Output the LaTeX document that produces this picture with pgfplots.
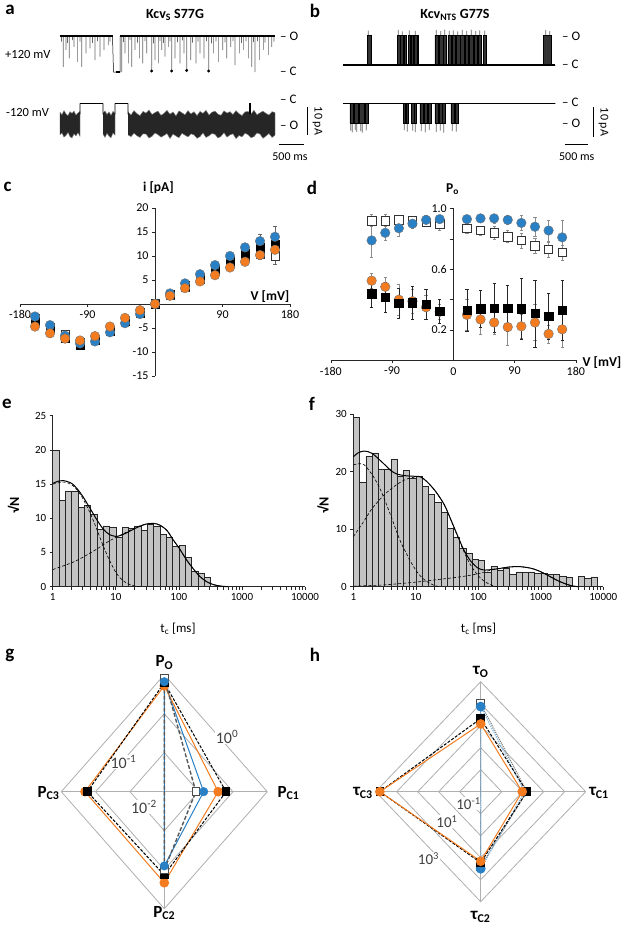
\documentclass[border=0pt]{standalone}
\usepackage{fontspec}
\setmainfont{Carlito}
\usepackage{pgfplots}
\usepackage{pgfplotstable}
\pgfplotsset{compat=1.18}

\definecolor{kblue}{RGB}{41,128,196}
\definecolor{korange}{RGB}{243,124,32}
\definecolor{kgrid}{RGB}{175,175,175}
\definecolor{kbar}{RGB}{196,196,196}
\newcommand{\fsz}[1]{\fontsize{#1}{#1}\selectfont}

\pgfkeys{/pgf/number format/assume math mode=true}
\pgfplotsset{
  every axis/.append style={scale only axis, anchor=south west},
  trace/.style={hide axis, clip=false},
  radar/.style={hide axis, clip=false, xmin=-1, xmax=1, ymin=-1, ymax=1},
  midaxis/.style={axis lines=middle, axis line style={-, black!85, line width=0.8pt},
    tick style={black!85, line width=0.6pt}, major tick length=3pt,
    tick align=outside, tick label style={font=\fsz{12}}, clip=false},
  histaxis/.style={axis x line=bottom, axis y line=left,
    axis line style={-, black!85, line width=0.8pt},
    tick style={black!85, line width=0.6pt}, major tick length=3pt, tick align=outside,
    tick label style={font=\fsz{11}}, clip=false},
  sqk/.style={only marks, mark=square*, mark size=4.2pt, mark options={fill=black, draw=black}},
  sqw/.style={only marks, mark=square*, mark size=4.2pt, mark options={fill=white, draw=black!80, line width=0.6pt}},
  cib/.style={only marks, mark=*, mark size=4.8pt, mark options={fill=kblue, draw=black!55, line width=0.4pt}},
  cio/.style={only marks, mark=*, mark size=4.8pt, mark options={fill=korange, draw=black!55, line width=0.4pt}},
  fitline/.style={black, line width=1pt, smooth, no marks},
  compline/.style={black, densely dashed, line width=0.6pt, smooth, no marks},
  spikes/.style={ybar, bar width=0.7pt, fill=black!60, draw=none},
}

% current-voltage (c)
\pgfplotstableread{
V blk wht blu org eblk ewht eblu eorg
-160 -3.6 -3.0 -2.6 -4.7 0.3 0.3 0.3 0.3
-140 -5.0 -5.0 -4.4 -6.1 0.3 0.3 0.3 0.3
-120 -7.0 -6.4 -6.6 -7.2 0.3 0.3 0.3 0.3
-100 -8.5 -8.0 -8.2 -7.6 0.3 0.3 0.3 0.3
-80 -7.6 -7.3 -7.8 -6.7 0.3 0.3 0.3 0.3
-60 -5.6 -5.5 -5.9 -4.7 0.3 0.3 0.3 0.3
-40 -3.6 -3.5 -4.0 -2.9 0.3 0.3 0.3 0.3
-20 -1.8 -1.7 -2.1 -1.3 0.3 0.3 0.3 0.3
0 0 0 0 0 0 0 0 0
20 2.0 1.9 2.2 1.7 0.3 0.3 0.3 0.3
40 3.8 3.6 4.3 3.3 0.3 0.3 0.3 0.3
60 5.5 5.2 6.2 4.7 0.3 0.3 0.3 0.3
80 7.2 6.8 8.1 6.0 0.4 0.4 0.4 0.3
100 9.0 8.5 10.0 7.6 0.6 0.5 0.6 0.4
120 10.5 9.8 11.8 8.8 0.8 0.7 0.9 0.5
140 11.8 10.4 13.1 10.2 1.4 1.0 1.5 0.6
160 12.5 10.0 14.0 11.3 1.8 1.7 2.3 0.8
}\ivdata

% open probability (d)
\pgfplotstableread{
V blk wht blu org eblk ewht eblu eorg
-120 0.44 0.92 0.79 0.525 0.09 0.04 0.11 0.05
-100 0.415 0.92 0.84 0.485 0.10 0.04 0.05 0.06
-80 0.375 0.925 0.87 0.40 0.10 0.03 0.05 0.10
-60 0.38 0.92 0.90 0.39 0.11 0.03 0.03 0.08
-40 0.37 0.91 0.925 0.35 0.10 0.03 0.03 0.08
-20 0.325 0.90 0.93 0.32 0.08 0.04 0.02 0.05
20 0.33 0.87 0.93 0.30 0.14 0.03 0.02 0.10
40 0.34 0.855 0.935 0.27 0.12 0.03 0.02 0.10
60 0.345 0.84 0.935 0.25 0.16 0.04 0.03 0.08
80 0.345 0.815 0.925 0.22 0.15 0.04 0.03 0.12
100 0.34 0.79 0.905 0.225 0.20 0.05 0.05 0.08
120 0.31 0.755 0.88 0.25 0.22 0.05 0.06 0.12
140 0.29 0.73 0.855 0.175 0.15 0.05 0.07 0.06
160 0.33 0.71 0.81 0.205 0.20 0.05 0.11 0.12
}\podata

% closed-time histograms, bin k spans 10^(k/10) .. 10^((k+1)/10) ms
\pgfplotstableread{
k h
0 20.0
1 12.6
2 14.0
3 14.0
4 11.6
5 11.9
6 10.6
7 8.4
8 8.9
9 8.7
10 7.3
11 8.7
12 8.6
13 8.9
14 8.2
15 9.2
16 8.9
17 7.7
18 7.3
19 5.9
20 6.0
21 4.3
22 2.3
23 1.9
24 1.4
}\histe

\pgfplotstableread{
k h
0 29.5
1 18.1
2 22.7
3 23.3
4 20.5
5 20.5
6 22.1
7 19.3
8 20.2
9 18.9
10 19.2
11 17.5
12 16.1
13 14.7
14 13.0
15 10.2
16 8.6
17 6.7
18 5.9
19 4.7
20 4.6
21 2.6
22 3.6
23 2.9
24 3.2
25 2.2
26 2.6
27 2.5
28 2.6
29 2.3
30 2.3
31 2.2
32 2.2
33 1.9
34 1.7
36 1.8
37 1.4
38 1.7
}\histf

% radar: probabilities (g), angle in degrees
\pgfplotstableread{
a p
90 0.81
0 0.0083
270 0.10
180 0.001
90 0.81
}\gwht
\pgfplotstableread{
a p
90 0.66
0 0.014
270 0.080
180 0.001
90 0.66
}\gblu
\pgfplotstableread{
a p
90 0.62
0 0.063
270 0.137
180 0.175
90 0.62
}\gblk
\pgfplotstableread{
a p
90 0.52
0 0.037
270 0.216
180 0.204
90 0.52
}\gorg

% radar: time constants in ms (h)
\pgfplotstableread{
a p
90 100
0 1.58
270 25
180 0.01
90 100
}\hwht
\pgfplotstableread{
a p
90 74
0 1.23
270 31.6
180 0.01
90 74
}\hblu
\pgfplotstableread{
a p
90 21
0 1.58
270 16.8
180 631
90 21
}\hblk
\pgfplotstableread{
a p
90 12
0 0.95
270 14.5
180 631
90 12
}\horg

\begin{document}
\begin{tikzpicture}
\path[use as bounding box] (0pt,0pt) rectangle (623pt,930pt);

% ================= a : Kcv_S S77G traces =================
\begin{axis}[trace, at={(60pt,852pt)}, width=215pt, height=50.4pt,
  xmin=0, xmax=4300, ymin=-15, ymax=3]
\addplot[spikes] coordinates {(30,-2) (67,-11.0) (120,-5.0) (150,-2.5) (187,-8.0)
 (250,-1.5) (280,-3.9) (347,-9.2) (400,-2) (433,-11.0) (520,-6.2) (600,-4.4) (650,-2.5)
 (700,-8.6) (750,-1.8) (800,-7.4) (880,-5.0) (967,-3.3) (1000,-2) (1233,-12.9) (1270,-2.2)
 (1300,-6.2) (1367,-9.8) (1400,-1.5) (1433,-11.0) (1500,-5.0) (1550,-2.4) (1587,-8.0)
 (1653,-9.8) (1700,-1.8) (1733,-6.2) (1833,-12.9) (1870,-2.6) (1900,-8.6) (1967,-9.8)
 (2000,-1.7) (2033,-5.0) (2070,-2.5) (2100,-7.4) (2167,-3.9) (2200,-1.9) (2233,-12.9)
 (2300,-8.0) (2350,-2.2) (2400,-9.8) (2450,-1.6) (2480,-6.2) (2533,-12.9) (2613,-8.6)
 (2650,-2.4) (2720,-9.8) (2760,-2) (2800,-6.2) (2880,-8.0) (2930,-1.8) (2973,-12.9)
 (3030,-2.6) (3067,-6.2) (3120,-1.9) (3167,-9.2) (3253,-5.0) (3300,-2.3) (3333,-8.0)
 (3413,-3.9) (3460,-1.7) (3500,-10.4) (3587,-6.2) (3630,-2.5) (3667,-5.0) (3720,-1.9)
 (3767,-8.0) (3833,-11.0) (3870,-2.2) (3900,-12.9) (3950,-1.8) (3987,-8.6) (4067,-5.0)
 (4100,-2.4) (4167,-6.8) (4233,-3.9) (4280,-2)};
\addplot[black, line width=1.5pt] coordinates {(0,0) (1050,0)};
\addplot[black, line width=1.5pt] coordinates {(1200,0) (4300,0)};
\addplot[black, line width=0.5pt] coordinates {(1050,0) (1070,-12.9) (1200,-12.9) (1200,0)};
\addplot[black, line width=1.8pt] coordinates {(1110,-12.9) (1200,-12.9)};
\addplot[only marks, mark=*, mark size=1.3pt, black] coordinates {(1833,-12.5) (2233,-12.5) (2533,-12.3) (2973,-12.5)};
\end{axis}

\begin{axis}[trace, at={(60pt,787.5pt)}, width=215pt, height=44.8pt,
  xmin=0, xmax=4300, ymin=-14, ymax=2]
\addplot[fill=black!85, draw=black!50, line width=0.4pt] coordinates {
 (0,-3.2) (40,-4.1) (80,-2.6) (120,-3.8) (160,-4.4) (200,-3.0) (240,-3.6) (280,-2.8)
 (320,-4.2) (360,-3.4) (400,-2.9) (400,-11.8) (360,-10.5) (320,-11.6) (280,-10.9)
 (240,-12.4) (200,-11.9) (160,-10.4) (120,-11.5) (80,-12.1) (40,-10.6) (0,-11.2)};
\addplot[fill=black!85, draw=black!50, line width=0.4pt] coordinates {
 (860,-3.5) (900,-2.7) (940,-4.0) (980,-3.1) (1020,-4.3) (1060,-2.9) (1100,-3.6)
 (1100,-11.4) (1060,-10.6) (1020,-12.3) (980,-11.7) (940,-10.7) (900,-12.2) (860,-11.0)};
\addplot[fill=black!85, draw=black!50, line width=0.4pt] coordinates {
 (1360,-3.0) (1420,-4.2) (1480,-2.6) (1540,-3.7) (1600,-4.4) (1660,-2.9) (1720,-3.5)
 (1780,-2.4) (1840,-4.0) (1900,-3.3) (1960,-2.8) (2020,-4.3) (2080,-3.6) (2140,-2.5)
 (2200,-3.9) (2260,-3.1) (2320,-4.5) (2380,-2.7) (2440,-3.4) (2500,-4.1) (2560,-2.6)
 (2620,-3.8) (2680,-3.0) (2740,-4.4) (2800,-2.9) (2860,-3.6) (2920,-2.5) (2980,-4.2)
 (3040,-3.2) (3100,-2.8) (3160,-3.9) (3220,-4.3) (3280,-2.7) (3340,-3.5) (3400,-3.0)
 (3460,-4.0) (3520,-2.6) (3580,-3.7) (3640,-4.4) (3700,-3.1) (3760,-2.9) (3820,-3.8)
 (3880,-2.5) (3940,-4.1) (4000,-3.4) (4060,-2.8) (4120,-3.6) (4180,-4.2) (4240,-3.0)
 (4300,-3.3)
 (4300,-11.4) (4240,-12.2) (4180,-10.8) (4120,-11.7) (4060,-12.5) (4000,-11.0) (3940,-10.6)
 (3880,-11.9) (3820,-12.3) (3760,-11.2) (3700,-10.7) (3640,-12.0) (3580,-11.5) (3520,-12.6)
 (3460,-10.9) (3400,-11.3) (3340,-12.1) (3280,-10.5) (3220,-11.8) (3160,-12.4) (3100,-11.1)
 (3040,-10.8) (2980,-11.6) (2920,-12.2) (2860,-10.6) (2800,-11.9) (2740,-12.5) (2680,-11.3)
 (2620,-10.9) (2560,-12.0) (2500,-11.4) (2440,-10.7) (2380,-12.3) (2320,-11.7) (2260,-11.0)
 (2200,-12.6) (2140,-10.8) (2080,-11.5) (2020,-12.1) (1960,-11.2) (1900,-10.6) (1840,-11.8)
 (1780,-12.4) (1720,-11.0) (1660,-10.9) (1600,-12.2) (1540,-11.6) (1480,-10.7) (1420,-11.9)
 (1360,-11.3)};
\addplot[black, line width=1.4pt] coordinates {(400,0) (860,0)};
\addplot[black, line width=1.4pt] coordinates {(1100,0) (1360,0)};
\addplot[ybar, bar width=0.6pt, fill=black, draw=none] coordinates {(400,-4) (860,-4) (1100,-4) (1360,-4)};
\addplot[black, line width=0.6pt] coordinates {(3785,-4) (3785,0) (3800,0) (3800,-4)};
\end{axis}

% ================= b : Kcv_NTS G77S traces =================
\begin{axis}[trace, at={(343.3pt,856.6pt)}, width=212pt, height=44.8pt,
  xmin=0, xmax=4240, ymin=-3, ymax=13]
\addplot[spikes] coordinates {(500,12.3) (1100,12.5) (1180,12.0) (1320,12.4) (1440,12.2)
 (1860,12.5) (1950,12.1) (2030,12.6) (2120,12.2) (2200,12.4) (2290,12.0) (2380,12.5)
 (2470,12.2) (2560,12.6) (2650,12.1) (2730,12.4) (2830,12.3) (4050,12.5) (4130,12.1)};
\addplot[const plot, fill=black!80, draw=black, line width=0.4pt] coordinates {
 (0,0) (486,10.7) (567,0)
 (1080,10.7) (1130,0) (1145,10.7) (1200,0) (1215,10.7) (1250,0) (1300,10.7) (1340,0)
 (1350,10.7) (1400,0) (1420,10.7) (1470,0) (1480,10.7) (1500,0)
 (1833,10.7) (1900,0) (1915,10.7) (1990,0) (2000,10.7) (2060,0) (2090,10.7) (2160,0)
 (2170,10.7) (2240,0) (2260,10.7) (2330,0) (2345,10.7) (2420,0) (2440,10.7) (2500,0)
 (2520,10.7) (2600,0) (2610,10.7) (2680,0) (2700,10.7) (2760,0) (2800,10.7) (2867,0)
 (4000,10.7) (4166,0) (4240,0)} \closedcycle;
\addplot[black, line width=1.3pt] coordinates {(0,0) (4240,0)};
\end{axis}

\begin{axis}[trace, at={(343.3pt,793.1pt)}, width=212pt, height=42pt,
  xmin=0, xmax=4240, ymin=-12, ymax=3]
\addplot[spikes] coordinates {(150,-9.8) (180,-10.4) (240,-9.5) (270,-10.2) (350,-9.9)
 (380,-10.5) (460,-9.7) (1220,-9.6) (1280,-10.1) (1390,-9.8) (1440,-10.3) (1560,-9.9)
 (1640,-10.4) (1720,-9.6) (1860,-10.2) (1940,-9.8) (2010,-10.5) (2180,-9.9) (2260,-10.1)};
\addplot[const plot, fill=black!80, draw=black, line width=0.4pt] coordinates {
 (0,0) (133,-7.1) (200,0) (210,-7.1) (300,0) (310,-7.1) (420,0) (430,-7.1) (500,0)
 (1200,-7.1) (1245,0) (1255,-7.1) (1300,0) (1367,-7.1) (1415,0) (1425,-7.1) (1467,0)
 (1533,-7.1) (1600,0) (1612,-7.1) (1680,0) (1690,-7.1) (1750,0) (1833,-7.1) (1900,0)
 (1910,-7.1) (1970,0) (1985,-7.1) (2040,0) (2150,-7.1) (2220,0) (2230,-7.1) (2300,0)
 (4240,0)} \closedcycle;
\addplot[black, line width=1.3pt] coordinates {(0,0) (4240,0)};
\end{axis}

% trace annotations
\node[font=\fsz{19}\bfseries] at (10pt,920pt) {a};
\node[font=\fsz{19}\bfseries] at (315pt,919pt) {b};
\node[font=\fsz{14}\bfseries] at (175pt,915pt) {Kcv\textsubscript{S} S77G};
\node[font=\fsz{14}\bfseries] at (455pt,915pt) {Kcv\textsubscript{NTS} G77S};
\node[font=\fsz{12.5}, anchor=west, inner sep=0pt] at (5pt,876pt) {+120 mV};
\node[font=\fsz{12.5}, anchor=west, inner sep=0pt] at (6pt,818pt) {-120 mV};
\begin{scope}[every node/.style={font=\fsz{13}, anchor=west, inner sep=0pt}]
\node at (280pt,894pt) {– O};
\node at (280pt,858.5pt) {– C};
\node at (280pt,830.5pt) {– C};
\node at (280pt,805pt) {– O};
\node at (562pt,893.3pt) {– O};
\node at (562pt,865.7pt) {– C};
\node at (562pt,827.3pt) {– C};
\node at (562pt,806.7pt) {– O};
\end{scope}
\draw[line width=1pt] (307pt,823pt) -- (307pt,795pt);
\node[rotate=-90, font=\fsz{12}] at (317.5pt,809pt) {10 pA};
\draw[line width=1pt] (593.3pt,823pt) -- (593.3pt,793pt);
\node[rotate=-90, font=\fsz{12}] at (603.5pt,808pt) {10 pA};
\draw[line width=1pt] (279pt,785.7pt) -- (304pt,785.7pt);
\node[font=\fsz{12}] at (290pt,773.3pt) {500 ms};
\draw[line width=1pt] (565pt,785.7pt) -- (588pt,785.7pt);
\node[font=\fsz{12}] at (576.7pt,773.3pt) {500 ms};

% ================= c : i-V =================
\begin{axis}[midaxis, at={(20pt,554pt)}, width=270pt, height=168pt,
  xmin=-180, xmax=180, ymin=-15, ymax=20,
  xtick={-180,-90,90,180}, ytick={-15,-10,-5,5,10,15,20}]
\addplot[sqw, error bars/.cd, y dir=both, y explicit, error bar style={line width=0.5pt, black!60},
  error mark options={rotate=90, mark size=1.6pt, line width=0.5pt, black!60}]
  table[x=V, y=wht, y error=ewht] {\ivdata};
\addplot[sqk, error bars/.cd, y dir=both, y explicit, error bar style={line width=0.5pt, black!80},
  error mark options={rotate=90, mark size=1.6pt, line width=0.5pt, black!80}]
  table[x=V, y=blk, y error=eblk] {\ivdata};
\addplot[cib, error bars/.cd, y dir=both, y explicit, error bar style={line width=0.5pt, black!60},
  error mark options={rotate=90, mark size=1.6pt, line width=0.5pt, black!60}]
  table[x=V, y=blu, y error=eblu] {\ivdata};
\addplot[cio, error bars/.cd, y dir=both, y explicit, error bar style={line width=0.5pt, black!60},
  error mark options={rotate=90, mark size=1.6pt, line width=0.5pt, black!60}]
  table[x=V, y=org, y error=eorg] {\ivdata};
\end{axis}
\node[font=\fsz{19}\bfseries] at (7.5pt,743.3pt) {c};
\node[font=\fsz{13.5}\bfseries] at (158.5pt,742pt) {i [pA]};
\node[font=\fsz{13.5}\bfseries] at (270pt,633pt) {V [mV]};

% ================= d : Po-V =================
\begin{axis}[midaxis, at={(330.8pt,569.5pt)}, width=245pt, height=152pt,
  xmin=-180, xmax=180, ymin=0, ymax=1,
  xtick={-180,-90,0,90,180}, xticklabels={-180,-90,0,90,180},
  ytick={0.2,0.4,0.6,0.8,1.0}, yticklabels={0.2,{},0.6,{},1.0}]
\addplot[sqw, error bars/.cd, y dir=both, y explicit, error bar style={line width=0.5pt, black!45},
  error mark options={rotate=90, mark size=1.6pt, line width=0.5pt, black!45}]
  table[x=V, y=wht, y error=ewht] {\podata};
\addplot[cib, error bars/.cd, y dir=both, y explicit, error bar style={line width=0.5pt, black!45},
  error mark options={rotate=90, mark size=1.6pt, line width=0.5pt, black!45}]
  table[x=V, y=blu, y error=eblu] {\podata};
\addplot[cio, error bars/.cd, y dir=both, y explicit, error bar style={line width=0.5pt, black!45},
  error mark options={rotate=90, mark size=1.6pt, line width=0.5pt, black!45}]
  table[x=V, y=org, y error=eorg] {\podata};
\addplot[sqk, error bars/.cd, y dir=both, y explicit, error bar style={line width=0.5pt, black!85},
  error mark options={rotate=90, mark size=1.6pt, line width=0.5pt, black!85}]
  table[x=V, y=blk, y error=eblk] {\podata};
\node[font=\fsz{12}, anchor=north, inner sep=2pt, fill=white] at (axis cs:0,0) [yshift=-5pt] {0};
\end{axis}
\node[font=\fsz{19}\bfseries] at (312pt,742pt) {d};
\node[font=\fsz{13.5}\bfseries] at (452.5pt,741pt) {P\textsubscript{o}};
\node[font=\fsz{13.5}\bfseries] at (602pt,567pt) {V [mV]};

% ================= e : histogram =================
\begin{axis}[histaxis, xmode=log, xmin=1, xmax=10000, ymin=0, ymax=25,
  at={(52.7pt,343.3pt)}, width=252.3pt, height=171pt,
  xtick={1,10,100,1000,10000}, xticklabels={1,10,100,1000,10000},
  minor xtick={}, ytick={0,5,10,15,20,25}]
\addplot[ybar, bar width=6.31pt, fill=kbar, draw=black!85, line width=0.5pt]
  table[x expr={exp(0.230258509*(\thisrow{k}+0.5))}, y=h] {\histe};
\addplot[compline] coordinates {(1,15.0) (1.5,15.3) (2,14.9) (2.5,14.0) (3,12.9) (4,10.6)
 (5,8.4) (6,6.5) (7,5.0) (8,3.8) (10,2.1) (12,1.2) (15,0.5) (20,0.1) (25,0)};
\addplot[compline] coordinates {(1,2.5) (2,3.5) (3,4.3) (5,5.5) (7,6.4) (10,7.2) (15,8.0)
 (20,8.6) (25,8.95) (30,9.15) (40,9.25) (50,9.0) (65,8.2) (82,6.8) (100,5.7) (133,3.9)
 (170,2.6) (215,1.5) (280,0.7) (355,0.3) (450,0.1) (600,0)};
\addplot[fitline] coordinates {(1,15.1) (1.2,15.4) (1.5,15.5) (2,15.1) (2.5,14.2) (3,13.2)
 (4,11.3) (5,9.8) (6,8.7) (7,8.0) (8,7.6) (10,7.35) (12,7.5) (15,7.9) (20,8.5) (25,8.9)
 (30,9.15) (40,9.25) (50,9.0) (65,8.2) (82,6.8) (100,5.7) (133,3.9) (170,2.6) (215,1.5)
 (280,0.7) (355,0.3) (450,0.1) (600,0)};
\end{axis}
\node[font=\fsz{19}\bfseries] at (7pt,526pt) {e};
\node[font=\fsz{14}\bfseries, rotate=90] at (13.5pt,425pt) {√N};
\node[font=\fsz{13}] at (178pt,301pt) {t\textsubscript{c} [ms]};

% ================= f : histogram =================
\begin{axis}[histaxis, xmode=log, xmin=1, xmax=10000, ymin=0, ymax=30,
  at={(353.3pt,343.3pt)}, width=250pt, height=172.4pt,
  xtick={1,10,100,1000,10000}, xticklabels={1,10,100,1000,10000},
  minor xtick={}, ytick={0,10,20,30}]
\addplot[ybar, bar width=6.25pt, fill=kbar, draw=black!85, line width=0.5pt]
  table[x expr={exp(0.230258509*(\thisrow{k}+0.5))}, y=h] {\histf};
\addplot[compline] coordinates {(1,21.2) (1.25,21.4) (1.5,21.2) (2,19.5) (2.5,17.7) (3,15.8)
 (4,12.3) (5,9.4) (6,7.3) (7,5.9) (8,4.6) (10,2.9) (12,1.8) (15,0.9) (20,0.2) (25,0)};
\addplot[compline] coordinates {(1,8.7) (1.5,11.5) (2,13.6) (3,15.8) (4,17.0) (5,17.8)
 (7,18.7) (10,19.1) (12,19.1) (15,18.3) (20,16.8) (25,15.3) (30,13.8) (40,10.5) (50,7.9)
 (60,5.9) (75,3.8) (100,1.9) (130,0.8) (170,0.2) (200,0)};
\addplot[compline] coordinates {(1,0.1) (3,0.3) (10,0.8) (25,1.3) (50,1.7) (85,2.1) (120,2.5)
 (160,2.9) (200,3.1) (300,3.4) (450,3.5) (700,3.2) (1000,2.6) (1500,1.6) (2000,0.9)
 (3000,0.2) (4000,0)};
\addplot[fitline] coordinates {(1,22.6) (1.2,23.3) (1.5,23.6) (2,23.2) (3,21.5) (4,20.2)
 (5,19.6) (7,19.3) (10,19.2) (12,19.1) (15,18.3) (20,16.8) (25,15.3) (30,13.8) (40,10.6)
 (50,8.1) (60,6.2) (75,4.5) (100,3.2) (130,2.9) (200,3.1) (300,3.4) (450,3.5) (700,3.2)
 (1000,2.6) (1500,1.6) (2000,0.9) (3000,0.2) (4000,0)};
\end{axis}
\node[font=\fsz{19}\bfseries] at (312pt,526pt) {f};
\node[font=\fsz{14}\bfseries, rotate=90] at (323pt,425pt) {√N};
\node[font=\fsz{13}] at (478.5pt,301pt) {t\textsubscript{c} [ms]};

% ================= g : radar of probabilities =================
\begin{axis}[radar, at={(61.3pt,21.3pt)}, width=206pt, height=234pt]
\addplot[kgrid, line width=0.8pt] coordinates {(1,0) (0,1) (-1,0) (0,-1) (1,0)};
\addplot[kgrid, line width=0.8pt] coordinates {(0.6667,0) (0,0.6667) (-0.6667,0) (0,-0.6667) (0.6667,0)};
\addplot[kgrid, line width=0.8pt] coordinates {(0.3333,0) (0,0.3333) (-0.3333,0) (0,-0.3333) (0.3333,0)};
\addplot[kgrid, line width=0.8pt] coordinates {(-1,0) (1,0)};
\addplot[kgrid, line width=0.8pt] coordinates {(0,-1) (0,1)};
\end{axis}
\begin{scope}[every node/.style={font=\fsz{16}, text=black!75, fill=white, inner sep=0.6pt}]
\node at (227pt,193pt) {10\textsuperscript{0}};
\node at (123.5pt,168pt) {10\textsuperscript{-1}};
\node at (144pt,123pt) {10\textsuperscript{-2}};
\end{scope}
\begin{axis}[radar, at={(61.3pt,21.3pt)}, width=206pt, height=234pt]
\addplot[kblue, line width=1pt, no marks]
  table[x expr={cos(\thisrow{a})*(ln(\thisrow{p})/ln(10)+3)/3},
        y expr={sin(\thisrow{a})*(ln(\thisrow{p})/ln(10)+3)/3}] {\gblu};
\addplot[korange, line width=1pt, mark=*, mark size=4.3pt, mark options={fill=korange},
  mark indices={1,2,3,4}]
  table[x expr={cos(\thisrow{a})*(ln(\thisrow{p})/ln(10)+3)/3},
        y expr={sin(\thisrow{a})*(ln(\thisrow{p})/ln(10)+3)/3}] {\gorg};
\addplot[black, line width=1pt, dash pattern=on 3pt off 1.5pt, mark=square*, mark size=3.8pt,
  mark options={solid, fill=black}, mark indices={1,2,3,4}]
  table[x expr={cos(\thisrow{a})*(ln(\thisrow{p})/ln(10)+3)/3},
        y expr={sin(\thisrow{a})*(ln(\thisrow{p})/ln(10)+3)/3}] {\gblk};
\addplot[black!65, line width=1.4pt, dash pattern=on 4pt off 2pt, mark=square*, mark size=3.8pt,
  mark options={solid, fill=white, draw=black!70, line width=0.8pt}, mark indices={1,2,3}]
  table[x expr={cos(\thisrow{a})*(ln(\thisrow{p})/ln(10)+3)/3},
        y expr={sin(\thisrow{a})*(ln(\thisrow{p})/ln(10)+3)/3}] {\gwht};
\addplot[only marks, mark=*, mark size=4.3pt, mark options={fill=kblue, draw=kblue},
  mark indices={1,2,3}]
  table[x expr={cos(\thisrow{a})*(ln(\thisrow{p})/ln(10)+3)/3},
        y expr={sin(\thisrow{a})*(ln(\thisrow{p})/ln(10)+3)/3}] {\gblu};
\end{axis}
\node[font=\fsz{19}\bfseries] at (10pt,275pt) {g};
\begin{scope}[every node/.style={font=\fsz{17}\bfseries}]
\node at (164.3pt,267.3pt) {P\textsubscript{O}};
\node at (288.5pt,137pt) {P\textsubscript{C1}};
\node at (164.3pt,17pt) {P\textsubscript{C2}};
\node at (48.5pt,137pt) {P\textsubscript{C3}};
\end{scope}

% ================= h : radar of time constants =================
\begin{axis}[radar, at={(375.7pt,28.3pt)}, width=210pt, height=220pt]
\addplot[kgrid, line width=0.8pt] coordinates {(1,0) (0,1) (-1,0) (0,-1) (1,0)};
\addplot[kgrid, line width=0.8pt] coordinates {(0.8,0) (0,0.8) (-0.8,0) (0,-0.8) (0.8,0)};
\addplot[kgrid, line width=0.8pt] coordinates {(0.6,0) (0,0.6) (-0.6,0) (0,-0.6) (0.6,0)};
\addplot[kgrid, line width=0.8pt] coordinates {(0.4,0) (0,0.4) (-0.4,0) (0,-0.4) (0.4,0)};
\addplot[kgrid, line width=0.8pt] coordinates {(0.2,0) (0,0.2) (-0.2,0) (0,-0.2) (0.2,0)};
\addplot[kgrid, line width=0.8pt] coordinates {(-1,0) (1,0)};
\addplot[kgrid, line width=0.8pt] coordinates {(0,-1) (0,1)};
\end{axis}
\begin{scope}[every node/.style={font=\fsz{15}, text=black!75, fill=white, inner sep=0.6pt}]
\node at (468.5pt,126.5pt) {10\textsuperscript{-1}};
\node at (447pt,108.5pt) {10\textsuperscript{1}};
\node at (428.5pt,71.5pt) {10\textsuperscript{3}};
\end{scope}
\begin{axis}[radar, at={(375.7pt,28.3pt)}, width=210pt, height=220pt]
\addplot[black!55, line width=1pt, densely dotted, mark=square*, mark size=3.8pt,
  mark options={solid, fill=white, draw=black!70}, mark indices={1,2,3}]
  table[x expr={cos(\thisrow{a})*(ln(\thisrow{p})/ln(10)+2)/5},
        y expr={sin(\thisrow{a})*(ln(\thisrow{p})/ln(10)+2)/5}] {\hwht};
\addplot[kblue!60, line width=1.2pt, dash pattern=on 1.2pt off 1.2pt, mark=*, mark size=4.3pt,
  mark options={solid, fill=kblue, draw=kblue}, mark indices={1,2,3}]
  table[x expr={cos(\thisrow{a})*(ln(\thisrow{p})/ln(10)+2)/5},
        y expr={sin(\thisrow{a})*(ln(\thisrow{p})/ln(10)+2)/5}] {\hblu};
\addplot[black, line width=1pt, dash pattern=on 3pt off 1.5pt, mark=square*, mark size=3.8pt,
  mark options={solid, fill=black}, mark indices={1,2,3,4}]
  table[x expr={cos(\thisrow{a})*(ln(\thisrow{p})/ln(10)+2)/5},
        y expr={sin(\thisrow{a})*(ln(\thisrow{p})/ln(10)+2)/5}] {\hblk};
\addplot[korange, line width=1pt, mark=*, mark size=4.3pt, mark options={fill=korange},
  mark indices={1,2,3,4}]
  table[x expr={cos(\thisrow{a})*(ln(\thisrow{p})/ln(10)+2)/5},
        y expr={sin(\thisrow{a})*(ln(\thisrow{p})/ln(10)+2)/5}] {\horg};
\end{axis}
\node[font=\fsz{19}\bfseries] at (315pt,275pt) {h};
\begin{scope}[every node/.style={font=\fsz{17}\bfseries}]
\node at (480.7pt,258.3pt) {τ\textsubscript{O}};
\node at (599pt,137pt) {τ\textsubscript{C1}};
\node at (480.7pt,13.3pt) {τ\textsubscript{C2}};
\node at (363pt,137pt) {τ\textsubscript{C3}};
\end{scope}
\end{tikzpicture}
\end{document}
